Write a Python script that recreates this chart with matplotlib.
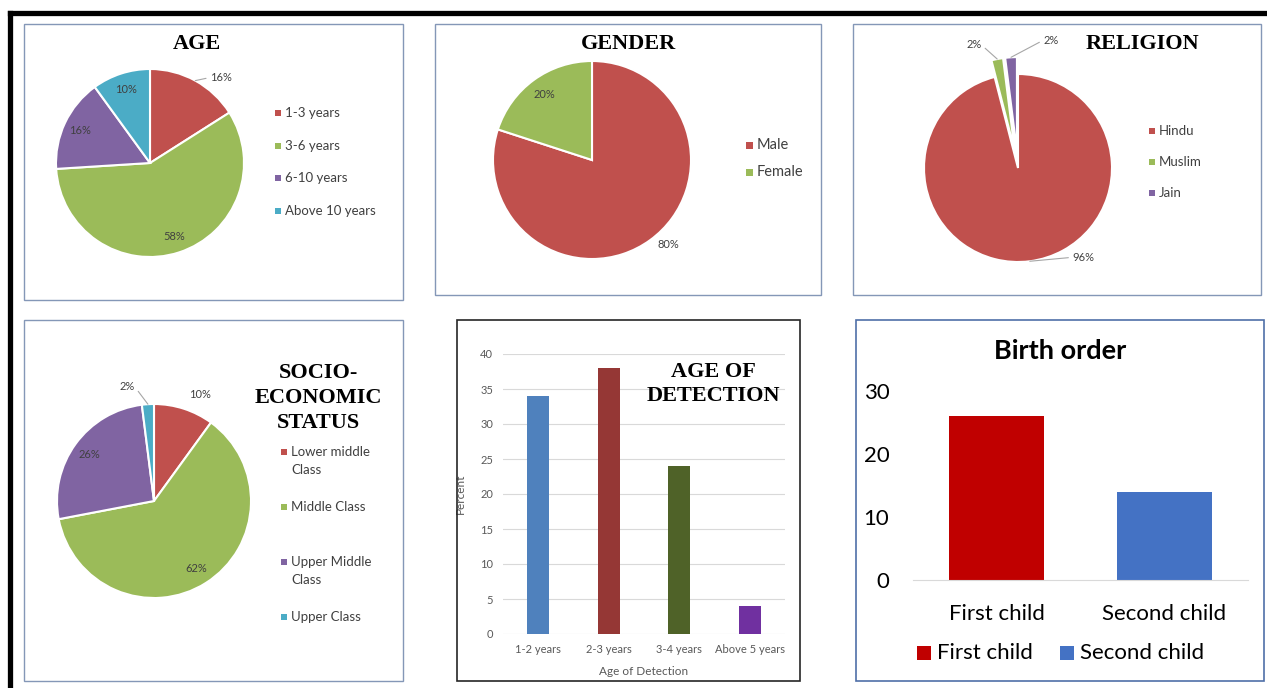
import numpy as np
import matplotlib
matplotlib.use('Agg')
import matplotlib.pyplot as plt
from matplotlib.patches import Rectangle
from matplotlib.lines import Line2D

W, H = 1267, 688

# data
age_labels = ['1-3 years', '3-6 years', '6-10 years', 'Above 10 years']
age_pct = [16, 58, 16, 10]
gender_labels = ['Male', 'Female']
gender_pct = [80, 20]
religion_labels = ['Hindu', 'Muslim', 'Jain']
religion_pct = [96, 2, 2]
ses_labels = ['Lower middle\nClass', 'Middle Class', 'Upper Middle\nClass', 'Upper Class']
ses_pct = [10, 62, 26, 2]
detect_labels = ['1-2 years', '2-3 years', '3-4 years', 'Above 5 years']
detect_pct = [34, 38, 24, 4]
birth_labels = ['First child', 'Second child']
birth_vals = [26, 14]

pie_colors = ['#C0504D', '#9BBB59', '#8064A2', '#4BACC6']
detect_colors = ['#4F81BD', '#953735', '#4F6228', '#7030A0']
birth_colors = ['#C00000', '#4472C4']

plt.rcParams['font.family'] = ['Lato', 'DejaVu Sans']
SERIF = 'Liberation Serif'
GREY = '#404040'
FRAME = '#8497B7'

fig = plt.figure(figsize=(W / 100, H / 100), dpi=100)


# pixel helpers (y measured from top)
def fx(x):
    return x / W


def fy(y):
    return 1 - y / H


def frame(x0, y0, x1, y1, color=FRAME, lw=1.0):
    fig.add_artist(Rectangle((fx(x0), fy(y1)), (x1 - x0) / W, (y1 - y0) / H,
                             transform=fig.transFigure, fill=False, ec=color, lw=lw))


def pie_ax(cx, cy, r):
    ax = fig.add_axes([fx(cx - r), fy(cy + r), 2 * r / W, 2 * r / H])
    return ax


def legend(x, y, step, labels, colors, size=9.5, sq=6, line=18):
    for i, (lab, c) in enumerate(zip(labels, colors)):
        yy = y + i * step
        fig.add_artist(Rectangle((fx(x - sq / 2), fy(yy + sq / 2)), sq / W, sq / H,
                                 transform=fig.transFigure, fc=c, ec='none'))
        for j, part in enumerate(lab.split('\n')):
            fig.text(fx(x + sq / 2 + 4), fy(yy + j * line), part, fontsize=size,
                     color=GREY, va='center', ha='left')


def mid(w):
    a = np.deg2rad((w.theta1 + w.theta2) / 2)
    return np.cos(a), np.sin(a)


def inside_labels(ax, wedges, pcts, skip, dist=0.82):
    for w, p, i in zip(wedges, pcts, range(len(pcts))):
        if i in skip:
            continue
        c, s = mid(w)
        ax.text(dist * c, dist * s, f'{p}%', fontsize=8, color=GREY, ha='center', va='center')


def leader(ax, w, p, xytext, ha):
    c, s = mid(w)
    cx, cy = w.center
    ax.annotate(f'{p}%', xy=(cx + c, cy + s), xytext=xytext, fontsize=8, color=GREY,
                ha=ha, va='center', annotation_clip=False,
                arrowprops=dict(arrowstyle='-', color='#A6A6A6', lw=0.8, shrinkA=1, shrinkB=0,
                                relpos=(0 if ha == 'left' else 1, 0.5)))


def setup_pie(ax):
    ax.set_xlim(-1, 1)
    ax.set_ylim(-1, 1)
    ax.axis('off')


wp = dict(edgecolor='white', linewidth=1.5)

# outer black border
fig.add_artist(Line2D([fx(9.5), fx(1267)], [fy(12.5), fy(12.5)], lw=3.8, color='black',
                      transform=fig.transFigure, solid_capstyle='projecting'))
fig.add_artist(Line2D([fx(9.5), fx(9.5)], [fy(12.5), fy(688)], lw=3.8, color='black',
                      transform=fig.transFigure, solid_capstyle='projecting'))

# ---- AGE
frame(24, 24, 403, 300)
ax = pie_ax(150, 163, 94)
wedges, _ = ax.pie(age_pct, colors=pie_colors, startangle=90, counterclock=False, wedgeprops=wp)
setup_pie(ax)
inside_labels(ax, wedges, age_pct, skip=[0])
leader(ax, wedges[0], age_pct[0], (0.64, 0.91), 'left')
fig.text(fx(197), fy(44), 'AGE', family=SERIF, weight='bold', fontsize=16, ha='center', va='center')
legend(278, 113, 32.7, age_labels, pie_colors)

# ---- GENDER
frame(435, 24, 821, 295)
ax = pie_ax(592, 160, 99)
wedges, _ = ax.pie(gender_pct, colors=pie_colors[:2], startangle=90, counterclock=False, wedgeprops=wp)
setup_pie(ax)
inside_labels(ax, wedges, gender_pct, skip=[0])
c, s = mid(wedges[0])
ax.text(1.2 * c + 0.07, 1.2 * s + 0.12, f'{gender_pct[0]}%', fontsize=8, color=GREY, ha='center', va='center')
fig.text(fx(629), fy(44), 'GENDER', family=SERIF, weight='bold', fontsize=16, ha='center', va='center')
legend(749, 145, 27, gender_labels, pie_colors[:2], size=10.5, sq=7)

# ---- RELIGION
frame(853, 24, 1261, 295)
ax = pie_ax(1018, 168, 94)
wedges, _ = ax.pie(religion_pct, colors=pie_colors[:3], startangle=90, counterclock=False,
                   explode=[0, 0.18, 0.18], wedgeprops=wp)
setup_pie(ax)
leader(ax, wedges[0], religion_pct[0], (0.58, -0.95), 'left')
leader(ax, wedges[1], religion_pct[1], (-0.39, 1.31), 'right')
leader(ax, wedges[2], religion_pct[2], (0.27, 1.36), 'left')
fig.text(fx(1142), fy(44), 'RELIGION', family=SERIF, weight='bold', fontsize=16, ha='center', va='center')
legend(1152, 131, 31, religion_labels, pie_colors[:3])

# ---- SOCIO-ECONOMIC STATUS
frame(24, 320, 403, 681)
ax = pie_ax(154, 501, 97)
wedges, _ = ax.pie(ses_pct, colors=pie_colors, startangle=90, counterclock=False, wedgeprops=wp)
setup_pie(ax)
inside_labels(ax, wedges, ses_pct, skip=[0, 3])
c, s = mid(wedges[0])
ax.text(1.21 * c + 0.1, 1.21 * s - 0.05, f'{ses_pct[0]}%', fontsize=8, color=GREY, ha='center', va='center')
leader(ax, wedges[3], ses_pct[3], (-0.2, 1.18), 'right')
fig.text(fx(318), fy(398), 'SOCIO-\nECONOMIC\nSTATUS', family=SERIF, weight='bold', fontsize=16,
         ha='center', va='center', linespacing=1.3)
legend(284, 452, 55, ses_labels, pie_colors)

# ---- AGE OF DETECTION
frame(457, 320, 800, 681, color='#262626', lw=1.2)
ax = fig.add_axes([fx(503), fy(634), (785 - 503) / W, (634 - 354) / H])
x = np.arange(len(detect_pct))
ax.bar(x, detect_pct, width=0.31, color=detect_colors, zorder=3)
ax.set_xlim(-0.5, len(x) - 0.5)
ax.set_ylim(0, 40)
ax.set_yticks(range(0, 41, 5))
ax.set_xticks(x, detect_labels)
ax.grid(axis='y', color='#D9D9D9', lw=0.8)
ax.set_axisbelow(True)
for sp in ax.spines.values():
    sp.set_visible(False)
ax.tick_params(length=0, labelsize=8, colors='#595959', pad=7)
ax.set_ylabel('Percent', fontsize=8.5, color='#595959')
ax.set_xlabel('Age of Detection', fontsize=8.5, color='#595959')
ax.yaxis.set_label_coords(-0.131, 0.5)
ax.xaxis.set_label_coords(0.5, -0.115)
fig.text(fx(713), fy(384), 'AGE OF\nDETECTION', family=SERIF, weight='bold', fontsize=16,
         ha='center', va='center', linespacing=1.3)

# ---- Birth order
frame(856, 320, 1264, 681, color='#4F6FA8', lw=1.2)
ax = fig.add_axes([fx(913), fy(580), (1248 - 913) / W, (580 - 391) / H])
x = np.arange(len(birth_vals))
ax.bar(x, birth_vals, width=0.57, color=birth_colors)
ax.set_xlim(-0.5, len(x) - 0.5)
ax.set_ylim(0, 30)
ax.set_yticks(range(0, 31, 10))
ax.set_xticks(x, birth_labels)
for k in ['top', 'right', 'left']:
    ax.spines[k].set_visible(False)
ax.spines['bottom'].set_color('#D9D9D9')
ax.tick_params(length=0, labelsize=16, colors='black')
ax.tick_params(axis='y', pad=17)
ax.tick_params(axis='x', pad=17)
fig.text(fx(1060), fy(351), 'Birth order', weight='bold', fontsize=19.5, ha='center', va='center')
for i, (lab, c) in enumerate(zip(birth_labels, birth_colors)):
    x0 = [917, 1060][i]
    fig.add_artist(Rectangle((fx(x0), fy(660)), 14 / W, 14 / H, transform=fig.transFigure, fc=c, ec='none'))
    fig.text(fx(x0 + 20), fy(653), lab, fontsize=16, color='black', va='center', ha='left')

fig.savefig('out.png', dpi=100)
